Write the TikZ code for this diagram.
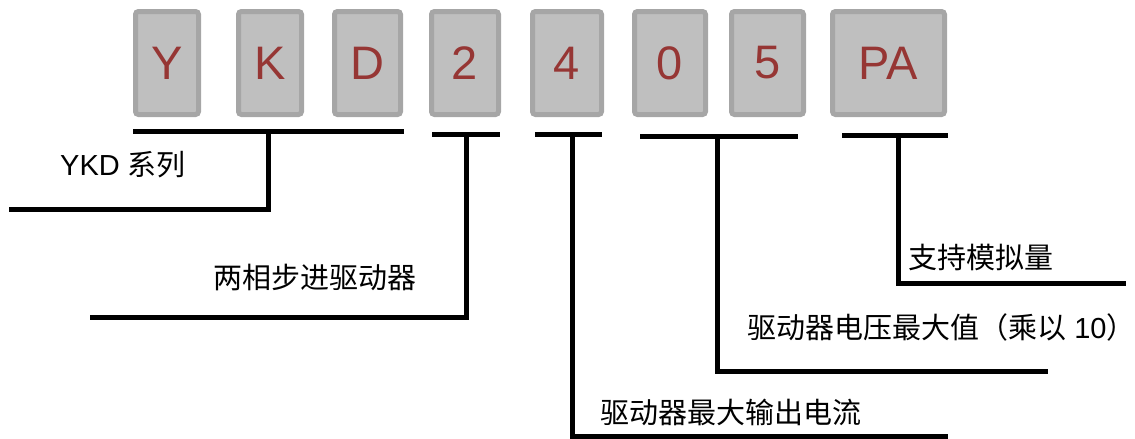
\documentclass[tikz,border=0pt]{standalone}
\usepackage{fontspec}
\setmainfont{Liberation Sans}
\newfontfamily\cjk{Noto Sans CJK SC}
\definecolor{pismo}{RGB}{150,54,52}

\begin{document}
\begin{tikzpicture}[
        x=1pt, y=-1pt,
        znak/.style={draw=gray!70, fill=gray!50, line width=5pt, rounded corners=3pt,
                     minimum height=103pt, inner sep=0pt, text=pismo,
                     font=\fontsize{47}{50}\selectfont},
        carka/.style={line width=5pt},
        popis/.style={anchor=west, inner sep=0pt, font=\fontsize{29}{32}\selectfont}
    ]
    \useasboundingbox (0,0) rectangle (1135,439);

    % Políčka s kódem
    \foreach \zn/\x/\w in {Y/167/63, K/270/63, D/367.5/66, 2/465/67,
                           4/567/69, 0/670/71, 5/767.5/72, PA/888.5/112}
        \node[znak, minimum width=\w pt] (b\zn) at (\x,63) {\zn};

    % Body čar
    \coordinate (a1) at (133,131);  \coordinate (z1) at (404,131);
    \coordinate (m1) at (268.5,131); \coordinate (e1) at (9,209);
    \coordinate (a2) at (432,134);  \coordinate (z2) at (500,134);
    \coordinate (m2) at (466,134);  \coordinate (e2) at (90,317);
    \coordinate (a3) at (535,134);  \coordinate (z3) at (602,134);
    \coordinate (m3) at (572,134);  \coordinate (e3) at (948,436);
    \coordinate (a4) at (640,136);  \coordinate (z4) at (798,136);
    \coordinate (m4) at (717,136);  \coordinate (e4) at (1048,371);
    \coordinate (a5) at (842,135);  \coordinate (z5) at (948,135);
    \coordinate (m5) at (898,135);  \coordinate (e5) at (1126,283);

    % Závorky a vodicí čáry
    \foreach \i in {1,...,5} {
        \draw[carka] (a\i) -- (z\i);
        \draw[carka] (m\i) |- (e\i);
    }

    % Popisky
    \node[popis] (lRada) at (60,165) {YKD {\cjk 系列}};
    \node[popis] (lTyp) at (213,277) {\cjk 两相步进驱动器};
    \node[popis] (lProud) at (600,412) {\cjk 驱动器最大输出电流};
    \node[popis] (lNapeti) at (747,327) {{\cjk 驱动器电压最大值（乘以} 10{\cjk ）}};
    \node[popis] (lAnalog) at (908,257) {\cjk 支持模拟量};

\end{tikzpicture}
\end{document}
